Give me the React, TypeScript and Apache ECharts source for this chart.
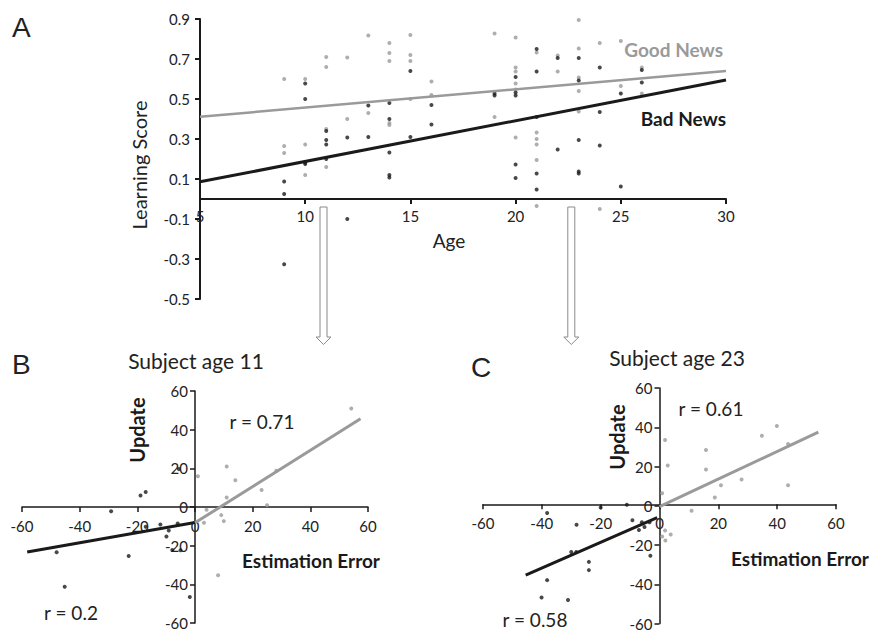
import React, { useEffect, useRef } from "react";
import * as echarts from "echarts";

const FONT = "Lato, 'Liberation Sans', sans-serif";
const LETTER_FONT = "'Liberation Sans', Arial, sans-serif";
const BLACK = "#1a1a1a";
const GRAY = "#9a9a9a";
const LABEL = "#222222";

// ---------- Panel A : learning score by age ----------
const ageRange = [5, 30, 5];
const scoreRange = [-0.5, 0.9, 0.2];

const goodNewsA: [number, number][] = [
  [9, 0.6], [9, 0.265], [9, 0.23],
  [10, 0.6], [10, 0.273], [10, 0.12],
  [11, 0.71], [11, 0.66], [11, 0.35], [11, 0.16],
  [12, 0.708], [12, 0.4],
  [13, 0.817], [13, 0.43],
  [14, 0.78], [14, 0.73], [14, 0.69], [14, 0.38], [14, 0.37],
  [15, 0.82], [15, 0.72], [15, 0.69], [15, 0.5],
  [16, 0.587], [16, 0.52],
  [19, 0.827], [19, 0.41],
  [20, 0.808], [20, 0.657], [20, 0.637], [20, 0.578], [20, 0.548], [20, 0.307],
  [21, 0.733], [21, 0.332], [21, 0.3], [21, 0.273], [21, 0.195], [21, -0.035],
  [22, 0.717], [22, 0.637],
  [23, 0.895], [23, 0.753], [23, 0.608], [23, 0.54], [23, 0.438],
  [24, 0.78], [24, -0.05],
  [25, 0.79], [25, 0.565],
  [26, 0.657], [26, 0.528],
];

const badNewsA: [number, number][] = [
  [9, 0.087], [9, 0.025], [9, -0.326],
  [10, 0.577], [10, 0.5], [10, 0.183], [10, 0.175],
  [11, 0.34], [11, 0.295], [11, 0.273], [11, 0.2],
  [12, 0.307], [12, -0.1],
  [13, 0.467], [13, 0.31],
  [14, 0.48], [14, 0.4], [14, 0.233], [14, 0.12], [14, 0.107],
  [15, 0.64], [15, 0.31],
  [16, 0.47], [16, 0.373],
  [19, 0.528], [19, 0.517],
  [20, 0.61], [20, 0.533], [20, 0.517], [20, 0.172], [20, 0.105],
  [21, 0.75], [21, 0.637], [21, 0.41], [21, 0.128], [21, 0.048],
  [22, 0.705], [22, 0.247],
  [23, 0.705], [23, 0.592], [23, 0.295], [23, 0.137], [23, 0.127],
  [24, 0.657], [24, 0.435], [24, 0.267],
  [25, 0.527], [25, 0.063],
  [26, 0.645], [26, 0.583],
];

const goodTrendA: [number, number][] = [[5, 0.411], [30, 0.64]];
const badTrendA: [number, number][] = [[5, 0.086], [30, 0.595]];

// ---------- Panel B : subject age 11 ----------
const errorRange = [-60, 60, 20];
const updateRange = [-60, 60, 20];

const badB: [number, number][] = [
  [-48, -23.4], [-45.2, -41.3], [-29.1, -2.2], [-23, -25.3],
  [-18.9, 5.9], [-17.1, 7.8], [-17.1, -10.2], [-12, -9.1],
  [-9.1, -12.2], [-9.9, -15.3], [-7.9, -22.2], [-5, -22.4],
  [-1.8, -46.5], [-5.6, 19.6], [-6, -8.5],
];
const goodB: [number, number][] = [
  [1, 15.9], [11, 20.9], [14, 13.8], [11, 4.9], [23.1, 8.8], [25, 0.9],
  [28.2, 18.8], [54.2, 50.9], [4, -1.4], [9.1, -4.2], [10, -7.3],
  [3.1, -8.2], [8, -35.3],
];
const badTrendB: [number, number][] = [[-58.2, -23.3], [0, -8]];
const goodTrendB: [number, number][] = [[0, -8.2], [57.4, 45.7]];

// ---------- Panel C : subject age 23 ----------
const badC: [number, number][] = [
  [-38.2, -3.7], [-20, -0.9], [-11.1, 0.5], [-28.2, -9.7], [-9.2, -7.4],
  [-7, -12.4], [-6, -8.4], [-5.1, -10.8], [-3.4, -8.4], [-30, -23.6],
  [-28.3, -23.6], [-24, -28.6], [-24, -32.8], [-3.1, -25.5],
  [-38.2, -37.9], [-40.1, -46.8], [-31.1, -48],
];
const goodC: [number, number][] = [
  [1.9, 33.5], [2.8, 20.5], [0.9, 6.4], [15.8, 28.4], [15.8, 18.5],
  [18.8, 4.2], [20.9, 10.4], [27.9, 13.4], [34.8, 35.7], [39.9, 40.6],
  [43.7, 31.5], [43.7, 10.4], [10.9, -2.5], [1.9, -12.6], [0.9, -15.7],
  [2, -17.7], [3.8, -14.6],
];
const badTrendC: [number, number][] = [[-45.5, -35.4], [-0.8, -6]];
const goodTrendC: [number, number][] = [[0, -0.5], [54, 37.5]];

// grid boxes (pixels)
const gridA = { left: 200, top: 19, width: 526, height: 280 };
const gridB = { left: 22, top: 391, width: 346, height: 232 };
const gridC = { left: 483, top: 388, width: 353, height: 238.5 };

// distance from an axis edge of the grid to where the value 0 of the other axis lies
function zeroOffset(range: number[], length: number, fromMin: boolean) {
  const frac = (0 - range[0]) / (range[1] - range[0]);
  return -(fromMin ? frac : 1 - frac) * length;
}

function valueAxis(
  gridIndex: number,
  range: number[],
  opts: { offset: number; fontSize: number; margin: number; width: number; decimals?: number }
) {
  return {
    type: "value",
    gridIndex,
    min: range[0],
    max: range[1],
    interval: range[2],
    offset: opts.offset,
    splitLine: { show: false },
    axisLine: { show: true, onZero: false, lineStyle: { color: BLACK, width: opts.width } },
    axisTick: { show: true, length: 5, lineStyle: { color: BLACK, width: opts.width } },
    axisLabel: {
      color: LABEL,
      fontSize: opts.fontSize,
      fontFamily: FONT,
      margin: opts.margin,
      formatter: (v: number) =>
        opts.decimals ? v.toFixed(opts.decimals) : String(Math.round(v)),
    },
  };
}

function dots(data: [number, number][], idx: number, color: string, size: number) {
  return {
    type: "scatter",
    xAxisIndex: idx,
    yAxisIndex: idx,
    data,
    symbol: "circle",
    symbolSize: size,
    itemStyle: { color },
    silent: true,
  };
}

function trend(data: [number, number][], idx: number, color: string, width: number) {
  return {
    type: "line",
    xAxisIndex: idx,
    yAxisIndex: idx,
    data,
    showSymbol: false,
    symbol: "none",
    lineStyle: { color, width },
    silent: true,
    z: 3,
  };
}

function txt(
  text: string,
  x: number,
  y: number,
  o: { size: number; bold?: boolean; color?: string; align?: string; rot?: number; family?: string }
) {
  const align = o.align || "center";
  return {
    type: "text",
    x,
    y,
    rotation: o.rot || 0,
    silent: true,
    style: {
      text,
      fill: o.color || LABEL,
      fontSize: o.size,
      fontWeight: o.bold ? "bold" : "normal",
      fontFamily: o.family || FONT,
      textAlign: align,
      textVerticalAlign: "middle",
      align,
      verticalAlign: "middle",
    },
  };
}

function arrow(cx: number, y0: number, y1: number, y2: number) {
  return {
    type: "polygon",
    silent: true,
    shape: {
      points: [
        [cx - 3.5, y0], [cx + 3.5, y0], [cx + 3.5, y1], [cx + 7.5, y1],
        [cx, y2], [cx - 7.5, y1], [cx - 3.5, y1],
      ],
    },
    style: { fill: "#ffffff", stroke: "#8a8a8a", lineWidth: 1 },
  };
}

export default function App() {
  const ref = useRef<HTMLDivElement>(null);

  useEffect(() => {
    if (!ref.current) return;
    const chart = echarts.init(ref.current, undefined, { renderer: "svg" });
    chart.setOption({
      animation: false,
      backgroundColor: "#ffffff",
      grid: [gridA, gridB, gridC],
      xAxis: [
        valueAxis(0, ageRange, {
          offset: zeroOffset(scoreRange, gridA.height, true), fontSize: 15, margin: 9, width: 2,
        }),
        valueAxis(1, errorRange, {
          offset: zeroOffset(updateRange, gridB.height, true), fontSize: 15, margin: 11, width: 1.5,
        }),
        valueAxis(2, errorRange, {
          offset: zeroOffset(updateRange, gridC.height, true), fontSize: 15, margin: 11, width: 1.5,
        }),
      ],
      yAxis: [
        valueAxis(0, scoreRange, { offset: 0, fontSize: 15, margin: 10, width: 2, decimals: 1 }),
        valueAxis(1, updateRange, {
          offset: zeroOffset(errorRange, gridB.width, true), fontSize: 15, margin: 7, width: 1.5,
        }),
        valueAxis(2, updateRange, {
          offset: zeroOffset(errorRange, gridC.width, true), fontSize: 15, margin: 7, width: 1.5,
        }),
      ],
      series: [
        dots(goodNewsA, 0, GRAY, 4),
        dots(badNewsA, 0, BLACK, 4),
        trend(goodTrendA, 0, GRAY, 2.5),
        trend(badTrendA, 0, BLACK, 3),
        dots(badB, 1, BLACK, 4),
        dots(goodB, 1, GRAY, 4),
        trend(badTrendB, 1, BLACK, 3),
        trend(goodTrendB, 1, GRAY, 3),
        dots(badC, 2, BLACK, 4),
        dots(goodC, 2, GRAY, 4),
        trend(badTrendC, 2, BLACK, 3),
        trend(goodTrendC, 2, GRAY, 3),
      ],
      graphic: [
        txt("A", 12, 27, { size: 28, align: "left", family: LETTER_FONT, color: "#222" }),
        txt("B", 12, 364, { size: 28, align: "left", family: LETTER_FONT, color: "#222" }),
        txt("C", 471, 367, { size: 28, align: "left", family: LETTER_FONT, color: "#222" }),
        txt("Learning Score", 139, 165, { size: 20, rot: Math.PI / 2 }),
        txt("Age", 449, 240, { size: 19 }),
        txt("Good News", 723, 49, { size: 19, bold: true, color: GRAY, align: "right" }),
        txt("Bad News", 726, 118, { size: 19, bold: true, color: BLACK, align: "right" }),
        txt("Subject age 11", 196, 360, { size: 21 }),
        txt("Update", 137, 430, { size: 20, bold: true, rot: Math.PI / 2, color: BLACK }),
        txt("r = 0.71", 262, 421, { size: 19 }),
        txt("Estimation Error", 311, 560, { size: 19, bold: true, color: BLACK }),
        txt("r = 0.2", 71, 612, { size: 19 }),
        txt("Subject age 23", 677, 357, { size: 21 }),
        txt("Update", 617, 437, { size: 20, bold: true, rot: Math.PI / 2, color: BLACK }),
        txt("r = 0.61", 711, 408, { size: 19 }),
        txt("Estimation Error", 800, 558, { size: 19, bold: true, color: BLACK }),
        txt("r = 0.58", 535, 619, { size: 19 }),
        arrow(323.5, 207, 337, 344.5),
        arrow(571.3, 207, 337, 344.5),
      ],
    });
    return () => chart.dispose();
  }, []);

  return (
    <div
      ref={ref}
      style={{ position: "fixed", left: 0, top: 0, width: 870, height: 631, background: "#fff" }}
    />
  );
}
